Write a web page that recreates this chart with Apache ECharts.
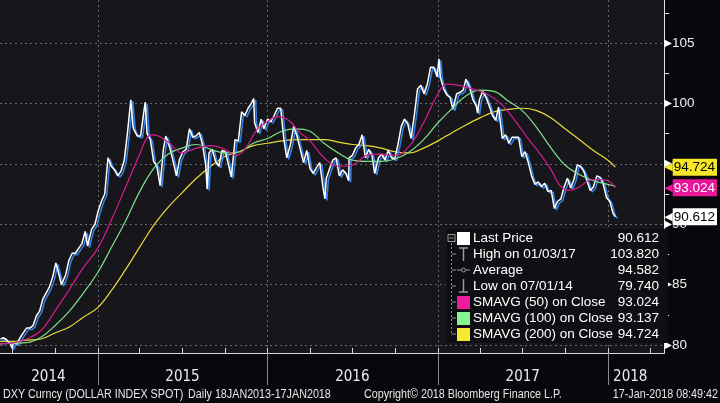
<!DOCTYPE html>
<html><head><meta charset="utf-8">
<script src="https://cdn.jsdelivr.net/npm/echarts@6/dist/echarts.min.js"></script>
<style>html,body{margin:0;padding:0;background:#08080c}#c{width:720px;height:403px}</style>
</head><body><div id="c"></div><script>
// ---------- DATA ----------
const price2014 = [['2014-06-06',80.5],['2014-06-13',80.6],['2014-06-20',80.4],['2014-06-27',80.1],['2014-07-01',79.74],['2014-07-04',80.2],['2014-07-11',80.1],['2014-07-18',80.6],['2014-07-25',81.0],['2014-08-01',81.4],['2014-08-08',81.4],['2014-08-15',81.6],['2014-08-22',82.4],['2014-08-29',82.8],['2014-09-05',83.8],['2014-09-12',84.3],['2014-09-19',84.8],['2014-09-26',85.6],['2014-10-03',86.8],['2014-10-10',85.8],['2014-10-15',85.0],['2014-10-24',85.8],['2014-10-31',87.0],['2014-11-07',87.6],['2014-11-14',87.6],['2014-11-21',88.0],['2014-11-28',88.4],['2014-12-05',89.4],['2014-12-10',88.2],['2014-12-19',89.6],['2014-12-26',90.0]];
const price2015 = [['2015-01-02',91.1],['2015-01-09',91.9],['2015-01-16',92.5],['2015-01-23',95.5],['2015-01-30',94.8],['2015-02-06',94.5],['2015-02-13',94.0],['2015-02-20',94.4],['2015-02-27',95.3],['2015-03-06',97.6],['2015-03-13',100.3],['2015-03-18',98.0],['2015-03-20',97.8],['2015-03-27',97.3],['2015-04-03',97.3],['2015-04-10',99.3],['2015-04-13',100.1],['2015-04-17',97.5],['2015-04-24',97.0],['2015-05-01',95.2],['2015-05-08',94.8],['2015-05-15',93.2],['2015-05-22',96.2],['2015-05-27',97.3],['2015-06-05',96.3],['2015-06-12',95.2],['2015-06-19',94.0],['2015-06-26',95.4],['2015-07-03',96.0],['2015-07-10',96.2],['2015-07-17',97.9],['2015-07-24',97.2],['2015-07-31',97.3],['2015-08-07',97.6],['2015-08-14',96.6],['2015-08-21',94.9],['2015-08-24',92.9],['2015-08-28',95.9],['2015-09-04',96.2],['2015-09-11',95.2],['2015-09-18',94.8],['2015-09-25',96.1],['2015-10-02',96.0],['2015-10-09',94.9],['2015-10-15',93.9],['2015-10-23',97.0],['2015-10-30',96.9],['2015-11-06',99.3],['2015-11-13',99.0],['2015-11-20',99.6],['2015-11-27',100.0],['2015-12-02',100.4],['2015-12-04',98.4],['2015-12-11',97.6],['2015-12-18',98.7],['2015-12-24',97.9]];
const price2016 = [['2016-01-01',98.7],['2016-01-08',98.5],['2016-01-15',99.0],['2016-01-22',99.6],['2016-01-29',99.6],['2016-02-05',97.0],['2016-02-11',95.5],['2016-02-19',96.6],['2016-02-26',98.1],['2016-03-04',97.3],['2016-03-11',96.2],['2016-03-18',95.1],['2016-03-25',96.1],['2016-04-01',94.6],['2016-04-08',94.2],['2016-04-15',94.7],['2016-04-22',95.1],['2016-04-29',93.0],['2016-05-03',92.1],['2016-05-06',93.8],['2016-05-13',94.6],['2016-05-20',95.3],['2016-05-27',95.5],['2016-06-03',94.0],['2016-06-10',94.5],['2016-06-17',94.2],['2016-06-23',93.6],['2016-06-24',95.5],['2016-07-01',95.7],['2016-07-08',96.3],['2016-07-15',96.6],['2016-07-22',97.4],['2016-07-29',95.5],['2016-08-05',96.2],['2016-08-12',95.7],['2016-08-18',94.2],['2016-08-26',95.5],['2016-09-02',95.8],['2016-09-09',95.3],['2016-09-16',96.1],['2016-09-23',95.5],['2016-09-30',95.4],['2016-10-07',96.6],['2016-10-14',98.1],['2016-10-21',98.7],['2016-10-28',98.3],['2016-11-04',97.1],['2016-11-11',99.0],['2016-11-18',101.2],['2016-11-25',101.5],['2016-12-02',100.8],['2016-12-09',101.6],['2016-12-16',103.0],['2016-12-23',103.0],['2016-12-30',102.2]];
const price2017 = [['2017-01-03',103.7],['2017-01-06',102.2],['2017-01-13',101.2],['2017-01-20',100.7],['2017-01-27',100.5],['2017-02-02',99.5],['2017-02-10',100.8],['2017-02-17',100.9],['2017-02-24',101.1],['2017-03-02',102.0],['2017-03-10',101.3],['2017-03-17',100.3],['2017-03-24',99.8],['2017-03-27',99.2],['2017-03-31',100.3],['2017-04-07',101.0],['2017-04-11',101.0],['2017-04-14',100.5],['2017-04-21',99.8],['2017-04-28',99.0],['2017-05-05',98.6],['2017-05-11',99.7],['2017-05-19',97.1],['2017-05-26',97.4],['2017-06-02',96.7],['2017-06-09',97.2],['2017-06-16',97.2],['2017-06-23',97.2],['2017-06-30',95.6],['2017-07-07',96.0],['2017-07-14',95.1],['2017-07-21',94.0],['2017-07-28',93.3],['2017-08-04',93.5],['2017-08-11',93.1],['2017-08-18',93.4],['2017-08-25',92.7],['2017-09-01',92.8],['2017-09-08',91.3],['2017-09-15',91.9],['2017-09-22',92.1],['2017-09-29',93.1],['2017-10-06',93.8],['2017-10-13',93.0],['2017-10-20',93.7],['2017-10-27',94.9],['2017-11-03',94.8],['2017-11-10',94.4],['2017-11-17',93.6],['2017-11-24',92.8],['2017-12-01',93.1],['2017-12-08',94.0],['2017-12-15',93.9],['2017-12-22',93.3],['2017-12-29',92.2]];
const price2018 = [['2018-01-05',91.9],['2018-01-12',90.9],['2018-01-17',90.612]];

const sma50 = [['2014-06-04',80.1],['2014-07-01',80.15],['2014-08-01',80.5],['2014-09-01',81.2],['2014-10-01',82.8],['2014-11-01',84.6],['2014-12-01',86.4],['2015-01-01',88.0],['2015-02-01',90.5],['2015-03-01',93.0],['2015-04-01',95.8],['2015-04-20',97.3],['2015-05-01',97.4],['2015-06-01',96.8],['2015-07-01',95.9],['2015-08-01',96.3],['2015-09-01',96.5],['2015-10-01',96.2],['2015-10-25',95.7],['2015-11-15',96.3],['2015-12-10',97.9],['2016-01-01',98.5],['2016-01-20',98.9],['2016-02-15',98.6],['2016-03-10',97.6],['2016-04-01',96.9],['2016-05-01',95.5],['2016-06-01',94.8],['2016-07-01',94.9],['2016-08-01',95.7],['2016-09-01',95.8],['2016-10-01',95.7],['2016-11-01',96.5],['2016-12-01',98.4],['2017-01-01',100.8],['2017-01-20',101.6],['2017-02-15',101.5],['2017-03-15',101.2],['2017-04-15',100.8],['2017-05-15',100.0],['2017-06-15',98.6],['2017-07-15',97.0],['2017-08-01',96.2],['2017-09-01',94.5],['2017-09-20',93.2],['2017-10-10',92.8],['2017-11-01',93.1],['2017-11-20',93.6],['2017-12-10',93.7],['2018-01-01',93.6],['2018-01-17',93.024]];
const sma100 = [['2014-06-04',80.1],['2014-07-01',80.15],['2014-08-01',80.2],['2014-09-01',80.65],['2014-10-01',81.6],['2014-11-01',82.8],['2014-12-01',84.3],['2015-01-01',86.0],['2015-02-01',88.2],['2015-03-01',90.2],['2015-04-01',92.7],['2015-05-01',94.6],['2015-06-01',95.8],['2015-07-01',96.3],['2015-08-01',96.6],['2015-09-01',96.2],['2015-10-01',95.9],['2015-11-01',96.0],['2015-12-01',96.7],['2016-01-01',97.1],['2016-02-01',97.7],['2016-03-01',97.9],['2016-04-01',97.7],['2016-05-01',96.7],['2016-06-01',95.9],['2016-07-01',95.3],['2016-08-01',95.2],['2016-09-01',95.2],['2016-10-01',95.4],['2016-11-01',96.0],['2016-12-01',97.0],['2017-01-01',98.4],['2017-02-01',99.6],['2017-03-01',100.6],['2017-04-01',101.1],['2017-05-01',101.0],['2017-06-01',100.2],['2017-07-01',99.4],['2017-08-01',98.0],['2017-09-01',96.3],['2017-10-01',94.9],['2017-11-01',94.1],['2017-12-01',93.6],['2018-01-01',93.3],['2018-01-17',93.137]];
const sma200 = [['2014-06-04',80.3],['2014-07-01',80.3],['2014-08-01',80.4],['2014-09-01',80.5],['2014-10-01',81.0],['2014-11-01',81.5],['2014-12-01',82.3],['2015-01-01',83.1],['2015-02-01',84.6],['2015-03-01',86.2],['2015-04-01',88.1],['2015-05-01',89.9],['2015-06-01',91.4],['2015-07-01',92.6],['2015-08-01',93.8],['2015-09-01',94.8],['2015-10-01',95.6],['2015-11-01',96.0],['2015-12-01',96.5],['2016-01-01',96.7],['2016-02-01',96.9],['2016-03-01',97.0],['2016-04-01',97.0],['2016-05-01',97.0],['2016-06-01',96.8],['2016-07-01',96.6],['2016-08-01',96.5],['2016-09-01',96.3],['2016-10-01',96.0],['2016-11-01',95.9],['2016-12-01',96.3],['2017-01-01',96.9],['2017-02-01',97.6],['2017-03-01',98.2],['2017-04-01',98.8],['2017-05-01',99.3],['2017-06-01',99.5],['2017-07-01',99.6],['2017-08-01',99.4],['2017-09-01',98.8],['2017-10-01',97.9],['2017-11-01',97.0],['2017-12-01',96.1],['2018-01-01',95.3],['2018-01-17',94.724]];

const yLabelValues = [80, 85, 90, 95, 100, 105];
const yTickValues = [80, 82.5, 85, 87.5, 90, 92.5, 95, 97.5, 100, 102.5, 105, 107.5];
const quarterTicks = ['2014-07-01','2014-10-01','2015-01-01','2015-04-01','2015-07-01','2015-10-01','2016-01-01','2016-04-01','2016-07-01','2016-10-01','2017-01-01','2017-04-01','2017-07-01','2017-10-01','2018-01-01','2018-04-01'];
const yearBounds = ['2015-01-01','2016-01-01','2017-01-01','2018-01-01'];
const yearLabelDates = ['2014-09-17','2015-07-02','2016-07-01','2017-07-02','2018-02-18'];
const xStart = '2014-06-05', xEnd = '2018-05-02';
const yMin = 79.34, yMax = 108.56;

const legendNames = ['Last Price','High on 01/03/17','Average','Low on 07/01/14','SMAVG (50) on Close','SMAVG (100) on Close','SMAVG (200) on Close'];
const legendValues = ['90.612','103.820','94.582','79.740','93.024','93.137','94.724'];
const tagLast = 90.612, tag50 = 93.024, tag200 = 94.724;
const footerLeft = 'DXY Curncy (DOLLAR INDEX SPOT)';
const footerDaily = 'Daily 18JAN2013-17JAN2018';
const footerCopy = 'Copyright\u00A9 2018 Bloomberg Finance L.P.';
const footerTime = '17-Jan-2018 08:49:42';

// ---------- CHART ----------
const T = s => Date.parse(s + 'T00:00:00Z');
const toXY = arr => arr.map(d => [T(d[0]), d[1]]);
const price = toXY([].concat(price2014, price2015, price2016, price2017, price2018));
const FONT = '"Liberation Sans", Arial, sans-serif';
const C50 = '#d81b8f', C100 = '#7fe08a', C200 = '#e8dc3a';
const GRIDC = '#68686e';

function tagAxis(val, bg, fg) {
  return { type:'value', position:'right', min:yMin, max:yMax,
    axisLine:{show:false}, axisTick:{show:false}, splitLine:{show:false},
    axisLabel:{ customValues:[val], margin:0,
      formatter: v => '{p|\u25C0}{t|' + Number(v).toFixed(3) + '}',
      rich:{ p:{color:bg, fontSize:11, fontFamily:'DejaVu Sans', lineHeight:18},
             t:{backgroundColor:bg, color:fg, fontSize:13.5, fontFamily:FONT, padding:[2,2,1,1], lineHeight:18} } } };
}

const chart = echarts.init(document.getElementById('c'), null, {renderer:'canvas'});
const rowY = [238, 254, 270, 286, 302, 318, 334];
const graphics = [];
graphics.push({type:'rect', shape:{x:446, y:229, width:222, height:114}, style:{fill:'#0f0f13'}, z:50});
graphics.push({type:'line', shape:{x1:451.5, y1:243, x2:451.5, y2:334}, style:{stroke:'#8c8c8c', lineDash:[2,2]}, z:51});
graphics.push({type:'rect', shape:{x:448, y:234.5, width:7, height:7}, style:{fill:'none', stroke:'#9a9a9a'}, z:51});
graphics.push({type:'line', shape:{x1:449.5, y1:238, x2:453.5, y2:238}, style:{stroke:'#9a9a9a'}, z:51});
for (let i = 1; i < 7; i++) graphics.push({type:'line', shape:{x1:451.5, y1:rowY[i], x2:456, y2:rowY[i]}, style:{stroke:'#8c8c8c'}, z:51});
graphics.push({type:'rect', shape:{x:457, y:232, width:13, height:13}, style:{fill:'#ffffff'}, z:51});
graphics.push({type:'line', shape:{x1:463.5, y1:248, x2:463.5, y2:261}, style:{stroke:'#9a9a9a', lineWidth:1.5}, z:51});
graphics.push({type:'line', shape:{x1:459, y1:248, x2:468, y2:248}, style:{stroke:'#9a9a9a', lineWidth:1.5}, z:51});
graphics.push({type:'line', shape:{x1:457, y1:270, x2:470, y2:270}, style:{stroke:'#9a9a9a'}, z:51});
graphics.push({type:'circle', shape:{cx:463.5, cy:270, r:2}, style:{fill:'#0f0f13', stroke:'#9a9a9a'}, z:52});
graphics.push({type:'line', shape:{x1:463.5, y1:279, x2:463.5, y2:292}, style:{stroke:'#9a9a9a', lineWidth:1.5}, z:51});
graphics.push({type:'line', shape:{x1:459, y1:292, x2:468, y2:292}, style:{stroke:'#9a9a9a', lineWidth:1.5}, z:51});
graphics.push({type:'rect', shape:{x:457, y:296, width:13, height:13}, style:{fill:'#ec1c9c'}, z:51});
graphics.push({type:'rect', shape:{x:457, y:312, width:13, height:13}, style:{fill:'#86f592'}, z:51});
graphics.push({type:'rect', shape:{x:457, y:328, width:13, height:13}, style:{fill:'#f7e92c'}, z:51});
legendNames.forEach((n, i) => {
  graphics.push({type:'text', x:473, y:rowY[i], style:{text:n, fill:'#ffffff', font:'13.5px ' + FONT, verticalAlign:'middle'}, z:53});
  graphics.push({type:'text', x:659, y:rowY[i], style:{text:legendValues[i], fill:'#ffffff', font:'13.5px ' + FONT, align:'right', verticalAlign:'middle'}, z:53});
});
const footStyle = (t, align) => ({text:t, fill:'#e6e6e6', font:'12.5px ' + FONT, align:align, verticalAlign:'middle'});
graphics.push({type:'text', x:3, y:395, scaleX:0.86, style:footStyle(footerLeft, 'left'), z:60});
graphics.push({type:'text', x:188, y:395, scaleX:0.86, style:footStyle(footerDaily, 'left'), z:60});
graphics.push({type:'text', x:364, y:395, scaleX:0.86, style:footStyle(footerCopy, 'left'), z:60});
graphics.push({type:'text', x:718, y:395, scaleX:0.86, style:footStyle(footerTime, 'right'), z:60});

chart.setOption({
  animation:false,
  backgroundColor:'#08080c',
  grid:{left:0, right:48, top:0, bottom:50, show:true, backgroundColor:'#17171b', borderWidth:0},
  xAxis:[
    { type:'value', min:T(xStart), max:T(xEnd),
      axisLine:{show:true, lineStyle:{color:'#d8d8d8', width:1}},
      axisTick:{show:true, inside:true, length:5, customValues:quarterTicks.map(T), lineStyle:{color:'#d8d8d8'}},
      axisLabel:{show:true, customValues:yearLabelDates.map(T), margin:17, color:'#ececec', fontSize:15, fontFamily:'"DejaVu Sans Condensed", "Liberation Sans", sans-serif',
        formatter: v => String(new Date(v).getUTCFullYear())},
      splitLine:{show:false} },
    { type:'value', min:T(xStart), max:T(xEnd), position:'bottom',
      axisLine:{show:false},
      axisTick:{show:true, inside:false, length:32, customValues:yearBounds.map(T), lineStyle:{color:'#8a8a8a'}},
      axisLabel:{show:false},
      splitLine:{show:true, lineStyle:{color:GRIDC, type:[2,3], width:1}} }
  ],
  yAxis:[
    { type:'value', position:'right', min:yMin, max:yMax,
      axisLine:{show:true, lineStyle:{color:'#e0e0e0'}},
      axisTick:{show:true, length:5, customValues:yTickValues, lineStyle:{color:'#e0e0e0'}},
      axisLabel:{customValues:yLabelValues, margin:0, color:'#f0f0f0',
        formatter: v => '{a|\u25B6}{b|' + v + '}',
        rich:{a:{color:'#ffffff', fontSize:10, fontFamily:'DejaVu Sans'}, b:{color:'#f0f0f0', fontSize:13.5, fontFamily:FONT}}},
      splitLine:{show:false} },
    { type:'value', position:'right', min:yMin, max:yMax,
      axisLine:{show:false}, axisTick:{show:false, customValues:yLabelValues}, axisLabel:{show:false},
      splitLine:{show:true, lineStyle:{color:GRIDC, type:[2,3], width:1}} },
    tagAxis(tag200, '#f5e62a', '#000000'),
    tagAxis(tag50, '#e8179a', '#ffffff'),
    tagAxis(tagLast, '#ffffff', '#000000')
  ],
  series:[
    { type:'line', name:'SMAVG (200) on Close', data:toXY(sma200), symbol:'none', smooth:0.4, lineStyle:{color:C200, width:1.2}, z:2 },
    { type:'line', name:'Last Price', data:price, symbol:'none', lineStyle:{color:'#ffffff', width:1.5, shadowColor:'#3384ea', shadowOffsetX:2, shadowOffsetY:1.5, shadowBlur:0}, z:3 },
    { type:'line', name:'SMAVG (100) on Close', data:toXY(sma100), symbol:'none', smooth:0.4, lineStyle:{color:C100, width:1.2}, z:4 },
    { type:'line', name:'SMAVG (50) on Close', data:toXY(sma50), symbol:'none', smooth:0.4, lineStyle:{color:C50, width:1.2}, z:5 }
  ],
  graphic:{elements:graphics}
});
</script></body></html>
